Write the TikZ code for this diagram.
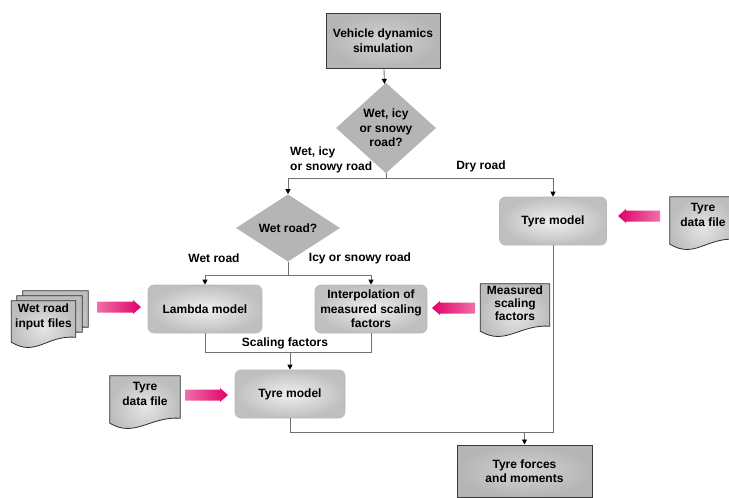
\documentclass[tikz,border=0pt]{standalone}
\usepackage{fontspec}
\setmainfont{Liberation Sans}
\usetikzlibrary{shapes.geometric,arrows.meta,calc}

\definecolor{pinkhead}{HTML}{E0006A}
\definecolor{pinktail}{HTML}{F070A8}
\definecolor{linegray}{HTML}{707070}

% document outline with a wavy lower edge, drawn around a named node
\newcommand\docshape[1]{%
  \draw[docstyle] (#1.north west) -- (#1.north east)
    -- ($(#1.south east)+(0pt,8pt)$)
    .. controls ($(#1.south east)+(-30pt,10pt)$) and ($(#1.south west)+(25pt,-12pt)$)
    .. ($(#1.south west)+(0pt,3pt)$) -- cycle;}

% horizontal block arrow from coordinate #2 to coordinate #3
\newcommand\blockarrow[3]{%
  \path[#1] ($(#2)+(0pt,5.5pt)$) -- ($(#3)!8pt!(#2)+(0pt,5.5pt)$)
    -- ($(#3)!8pt!(#2)+(0pt,7pt)$) -- (#3) -- ($(#3)!8pt!(#2)+(0pt,-7pt)$)
    -- ($(#3)!8pt!(#2)+(0pt,-5.5pt)$) -- ($(#2)+(0pt,-5.5pt)$) -- cycle;}

\begin{document}
\begin{tikzpicture}[x=1pt,y=-1pt,
  font=\bfseries\fontsize{12}{14.5}\selectfont,
  conn/.style={draw=linegray, line width=0.9pt},
  arr/.style={conn, -{Triangle[length=5pt,width=5pt,color=black]}},
  squarebox/.style={rectangle, draw=gray!45!black, line width=1pt,
    inner color=gray!35, outer color=gray!58, align=center, inner sep=2pt},
  roundbox/.style={rectangle, rounded corners=6pt, draw=gray!55, line width=0.6pt,
    inner color=gray!12, outer color=gray!50, align=center, inner sep=1pt,
    minimum height=48pt},
  decision/.style={diamond, fill=gray!58, align=center, inner sep=0pt},
  doctext/.style={rectangle, align=center, inner sep=0pt},
  docstyle/.style={draw=gray!35!black, line width=0.8pt, inner color=gray!20, outer color=gray!52},
  lbl/.style={inner sep=1pt},
  pinkR/.style={left color=pinktail, right color=pinkhead},
  pinkL/.style={left color=pinkhead, right color=pinktail}
]
\useasboundingbox (0,0) rectangle (729,498);

% main flow boxes
\node[squarebox, minimum width=114pt, minimum height=55pt] (sim) at (383,40.5) {Vehicle dynamics\\simulation};
\node[decision, minimum width=100pt, minimum height=64pt] (d1) at (386,128) {Wet, icy\\or snowy\\road?};
\node[decision, minimum width=104pt, minimum height=56pt] (d2) at (288,228) {Wet road?};
\node[roundbox, minimum width=114pt] (lam) at (205,309) {Lambda model};
\node[roundbox, minimum width=112pt] (interp) at (371,309) {Interpolation of\\measured scaling\\factors};
\node[roundbox, minimum width=110pt] (tm2) at (290,394) {Tyre model};
\node[roundbox, minimum width=107pt] (tm1) at (553,221) {Tyre model};
\node[squarebox, minimum width=135pt, minimum height=52pt] (forces) at (524.5,471) {Tyre forces\\and moments};

% junction points
\coordinate (j1) at (386,178);
\coordinate (j1l) at (288,178);
\coordinate (j1r) at (553,178);
\coordinate (j2) at (288,275);
\coordinate (j2l) at (205,275);
\coordinate (j2r) at (371,275);
\coordinate (j3l) at (205,352);
\coordinate (j3r) at (371,352);
\coordinate (j3) at (290,352);
\coordinate (j4l) at (290,432);
\coordinate (j4r) at (553,432);
\coordinate (j4) at (524.5,432);

% connectors
\draw[arr] (sim) -- (d1);
\draw[conn] (d1.south) -- (j1);
\draw[conn] (j1l) -- (j1r);
\draw[arr] (j1l) -- (d2.north);
\draw[arr] (j1r) -- (tm1.north);
\draw[conn] (d2.south) -- (j2);
\draw[conn] (j2l) -- (j2r);
\draw[arr] (j2l) -- (lam.north);
\draw[arr] (j2r) -- (interp.north);
\draw[conn] (lam.south) -- (j3l) -- (j3r) -- (interp.south);
\draw[arr] (j3) -- (tm2.north);
\draw[conn] (tm2.south) -- (j4l) -- (j4r) -- (tm1.south);
\draw[arr] (j4) -- (forces.north);

% connector labels
\node[lbl, anchor=west, align=left] (l1) at (289,160) {Wet, icy\\or snowy road};
\node[lbl] (l2) at (481,166) {Dry road};
\node[lbl] (l3) at (214,258) {Wet road};
\node[lbl] (l4) at (360,258) {Icy or snowy road};
\node[lbl] (l5) at (285,343) {Scaling factors};

% data files
\node[doctext, minimum width=65pt, minimum height=44pt] (wif3) at (55.5,313) {};
\node[doctext, minimum width=65pt, minimum height=44pt] (wif2) at (49.5,318) {};
\node[doctext, minimum width=64pt, minimum height=44pt] (wif) at (43.5,323) {};
\docshape{wif3}
\docshape{wif2}
\docshape{wif}
\node[align=center] (wift) at (43.5,317) {Wet road\\input files};

\node[doctext, minimum width=69pt, minimum height=50pt] (msf) at (515,309) {};
\docshape{msf}
\node[align=center, font=\bfseries\fontsize{12}{13}\selectfont] (msft) at (515,303) {Measured\\scaling\\factors};

\node[doctext, minimum width=70pt, minimum height=50pt] (tdl) at (145,401) {};
\docshape{tdl}
\node[align=center] (tdlt) at (145,394) {Tyre\\data file};

\node[doctext, minimum width=66pt, minimum height=50pt] (tdr) at (703,222) {};
\docshape{tdr}
\node[align=center] (tdrt) at (703,215) {Tyre\\data file};

% feed arrows
\coordinate (p1s) at (97,307);  \coordinate (p1e) at (141,307);
\coordinate (p2s) at (475,308); \coordinate (p2e) at (432,308);
\coordinate (p3s) at (660,216); \coordinate (p3e) at (618,216);
\coordinate (p4s) at (185,395); \coordinate (p4e) at (228,395);
\blockarrow{pinkR}{p1s}{p1e}
\blockarrow{pinkL}{p2s}{p2e}
\blockarrow{pinkL}{p3s}{p3e}
\blockarrow{pinkR}{p4s}{p4e}
\end{tikzpicture}
\end{document}
